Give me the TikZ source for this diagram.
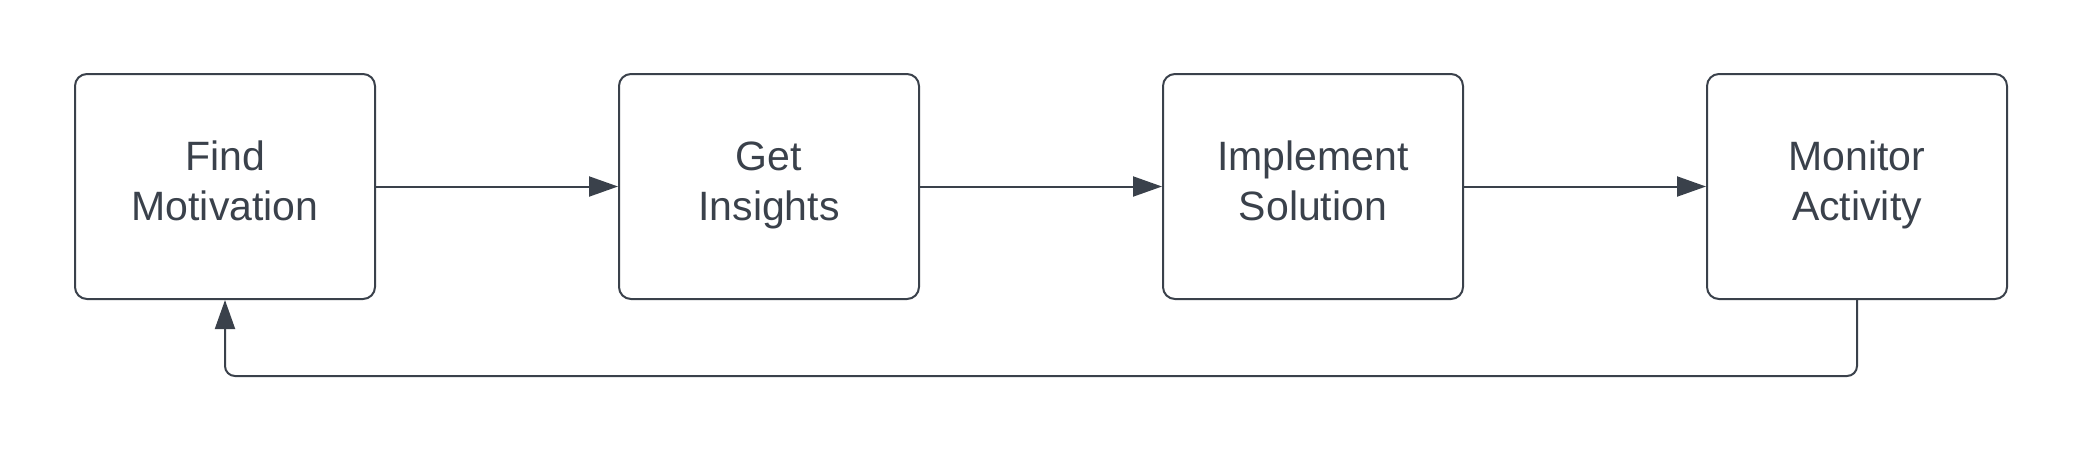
\documentclass[tikz,border=0pt]{standalone}
\usepackage{fontspec}
\setmainfont{Liberation Sans}
\usetikzlibrary{positioning,arrows.meta}
\definecolor{ink}{RGB}{58,65,75}
\tikzset{
    step box/.style={draw=ink, line width=1pt, rounded corners=6pt, minimum width=150pt, minimum height=112.5pt,
        align=center, text=ink, text height=42pt, text depth=8.5pt, font=\fontsize{20.5}{25}\selectfont},
    flow/.style={draw=ink, line width=1pt, -{Triangle[length=14.5pt,width=10pt]}}
}
\begin{document}
\begin{tikzpicture}[x=0.5pt,y=-0.5pt]
    \useasboundingbox (0,0) rectangle (2081,452);

    % Boxes
    \node[step box] (find) at (225,186.5) {Find\\Motivation};
    \node[step box, right=121pt of find] (insights) {Get\\Insights};
    \node[step box, right=121pt of insights] (implement) {Implement\\Solution};
    \node[step box, right=121pt of implement] (monitor) {Monitor\\Activity};

    % Arrows
    \draw[flow] (find) -- (insights);
    \draw[flow] (insights) -- (implement);
    \draw[flow] (implement) -- (monitor);

    % Feedback loop
    \draw[flow, rounded corners=5pt] (monitor.south) -- ++(0,76) -| (find.south);
\end{tikzpicture}
\end{document}
